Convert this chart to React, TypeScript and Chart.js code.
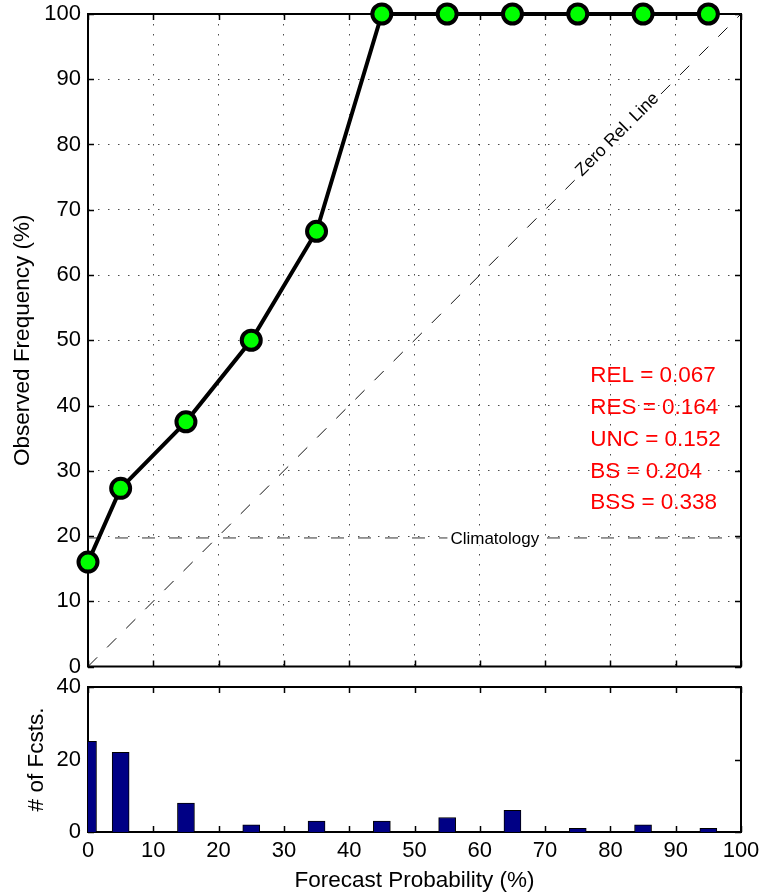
import React, { useEffect, useRef } from 'react';
import { Chart, registerables } from 'chart.js';
Chart.register(...registerables);

const forecastProb = [0, 5, 15, 25, 35, 45, 55, 65, 75, 85, 95];
const observedFreq = [16, 27.3, 37.5, 50, 66.7, 100, 100, 100, 100, 100, 100];
const fcstCounts = [25, 22, 8, 2, 3, 3, 4, 6, 1, 2, 1];
const climatology = 19.7;
const statLabels = ['REL = 0.067', 'RES = 0.164', 'UNC = 0.152', 'BS = 0.204', 'BSS = 0.338'];
const zeroRelLabel = 'Zero Rel. Line';
const climLabel = 'Climatology';
const xTitle = 'Forecast Probability (%)';
const yTitleTop = 'Observed Frequency (%)';
const yTitleBottom = '# of Fcsts.';

const FONT = "'Liberation Sans', Arial, Helvetica, sans-serif";

const boxPlugin = {
  id: 'matlabBox',
  beforeDatasetsDraw(chart: any) {
    const { ctx, chartArea: a, scales } = chart;
    ctx.save();
    ctx.strokeStyle = '#000';
    ctx.lineWidth = 1.5;
    const L = 6;
    ctx.beginPath();
    scales.x.ticks.forEach((t: any) => {
      const px = Math.round(scales.x.getPixelForValue(t.value)) + 0.5;
      ctx.moveTo(px, a.bottom);
      ctx.lineTo(px, a.bottom - L);
      ctx.moveTo(px, a.top);
      ctx.lineTo(px, a.top + L);
    });
    scales.y.ticks.forEach((t: any) => {
      const py = Math.round(scales.y.getPixelForValue(t.value)) + 0.5;
      ctx.moveTo(a.left, py);
      ctx.lineTo(a.left + L, py);
      ctx.moveTo(a.right, py);
      ctx.lineTo(a.right - L, py);
    });
    ctx.stroke();
    ctx.lineWidth = 2;
    ctx.strokeRect(a.left, a.top, a.right - a.left, a.bottom - a.top);
    ctx.restore();
  },
};

const textPlugin = {
  id: 'reliabilityText',
  afterDatasetsDraw(chart: any) {
    const { ctx, scales } = chart;
    const x = scales.x, y = scales.y;
    ctx.save();
    // Zero reliability line label
    ctx.font = `17.5px ${FONT}`;
    ctx.textAlign = 'center';
    ctx.textBaseline = 'middle';
    const zx = x.getPixelForValue(81.3);
    const zy = y.getPixelForValue(81.3);
    ctx.translate(zx, zy);
    ctx.rotate(-Math.PI / 4);
    const zw = ctx.measureText(zeroRelLabel).width;
    ctx.fillStyle = '#fff';
    ctx.fillRect(-zw / 2 - 3, -10, zw + 6, 16);
    ctx.fillStyle = '#000';
    ctx.fillText(zeroRelLabel, 0, -2);
    ctx.setTransform(1, 0, 0, 1, 0, 0);
    // Climatology label
    ctx.font = `17px ${FONT}`;
    const cx = x.getPixelForValue(62.3);
    const cy = y.getPixelForValue(climatology);
    const cw = ctx.measureText(climLabel).width;
    ctx.fillStyle = '#fff';
    ctx.fillRect(cx - cw / 2 - 3, cy - 7, cw + 6, 14);
    ctx.fillStyle = '#000';
    ctx.fillText(climLabel, cx, cy + 1);
    // Stats
    ctx.font = `22.5px ${FONT}`;
    ctx.textAlign = 'left';
    ctx.fillStyle = '#ff0000';
    statLabels.forEach((s, i) => {
      ctx.fillText(s, x.getPixelForValue(76.9), y.getPixelForValue(44.5 - i * 4.87));
    });
    ctx.restore();
  },
};

const zeroPad = (s: any) => {
  s.paddingLeft = 0;
  s.paddingRight = 0;
  s.paddingTop = 0;
  s.paddingBottom = 0;
};

function TopChart() {
  const ref = useRef<HTMLCanvasElement>(null);
  useEffect(() => {
    const chart = new Chart(ref.current!, {
      type: 'line',
      data: {
        datasets: [
          {
            data: forecastProb.map((p, i) => ({ x: p, y: observedFreq[i] })),
            borderColor: '#000',
            borderWidth: 4,
            pointRadius: 9.5,
            pointBorderWidth: 4,
            pointBackgroundColor: '#00ff00',
            pointBorderColor: '#000',
            clip: false,
            order: 0,
          } as any,
          {
            data: [{ x: 0, y: 0 }, { x: 100, y: 100 }],
            borderColor: '#111',
            borderWidth: 1,
            borderDash: [13, 14],
            pointRadius: 0,
            order: 1,
          },
          {
            data: [{ x: 0, y: climatology }, { x: 100, y: climatology }],
            borderColor: '#333',
            borderWidth: 1,
            borderDash: [13, 14],
            pointRadius: 0,
            order: 2,
          },
        ],
      },
      options: {
        responsive: false,
        animation: false,
        layout: { padding: { top: 14, right: 21, bottom: 13, left: 0 } },
        plugins: { legend: { display: false }, tooltip: { enabled: false } },
        scales: {
          x: {
            type: 'linear',
            min: 0,
            max: 100,
            ticks: { stepSize: 10, display: false },
            grid: { color: 'rgba(0,0,0,0.7)', lineWidth: 1, drawTicks: false },
            border: { display: false, dash: [1.5, 8.5] },
            afterFit: (s: any) => { s.height = 0; zeroPad(s); },
          },
          y: {
            type: 'linear',
            min: 0,
            max: 100,
            ticks: { stepSize: 10, color: '#000', font: { size: 22, family: FONT }, padding: 7 },
            grid: { color: 'rgba(0,0,0,0.7)', lineWidth: 1, drawTicks: false },
            border: { display: false, dash: [1.5, 8.5] },
            title: {
              display: true,
              text: yTitleTop,
              color: '#000',
              font: { size: 22.5, family: FONT },
              padding: { top: 9, bottom: 0 },
            },
            afterFit: (s: any) => { s.width = 88; zeroPad(s); },
          },
        },
      } as any,
      plugins: [boxPlugin, textPlugin],
    });
    return () => chart.destroy();
  }, []);
  return <canvas ref={ref} width={762} height={680} />;
}

function BottomChart() {
  const ref = useRef<HTMLCanvasElement>(null);
  useEffect(() => {
    const chart = new Chart(ref.current!, {
      type: 'bar',
      data: {
        datasets: [
          {
            data: forecastProb.map((p, i) => ({ x: p, y: fcstCounts[i] })),
            backgroundColor: '#000085',
            borderColor: '#000',
            borderWidth: 1,
            barThickness: 17,
          } as any,
        ],
      },
      options: {
        responsive: false,
        animation: false,
        layout: { padding: { top: 15, right: 21, bottom: 0, left: 0 } },
        plugins: { legend: { display: false }, tooltip: { enabled: false } },
        scales: {
          x: {
            type: 'linear',
            min: 0,
            max: 100,
            offset: false,
            ticks: { stepSize: 10, color: '#000', font: { size: 22, family: FONT }, padding: 6, maxRotation: 0, autoSkip: false },
            grid: { display: false, drawTicks: false },
            border: { display: false },
            title: {
              display: true,
              text: xTitle,
              color: '#000',
              font: { size: 22.5, family: FONT },
              padding: { top: 0, bottom: 2 },
            },
            afterFit: (s: any) => { s.height = 64; zeroPad(s); },
          },
          y: {
            type: 'linear',
            min: 0,
            max: 40,
            ticks: { stepSize: 20, color: '#000', font: { size: 22, family: FONT }, padding: 7 },
            grid: { display: false, drawTicks: false },
            border: { display: false },
            title: {
              display: true,
              text: yTitleBottom,
              color: '#000',
              font: { size: 22.5, family: FONT },
              padding: { top: 23, bottom: 0 },
            },
            afterFit: (s: any) => { s.width = 88; zeroPad(s); },
          },
        },
      } as any,
      plugins: [boxPlugin],
    });
    return () => chart.destroy();
  }, []);
  return <canvas ref={ref} width={762} height={224} />;
}

export default function App() {
  return (
    <div style={{ position: 'absolute', left: 0, top: 0, width: 762, height: 896, background: '#fff', overflow: 'hidden' }}>
      <div style={{ position: 'absolute', left: 0, top: 0, width: 762, height: 680 }}>
        <TopChart />
      </div>
      <div style={{ position: 'absolute', left: 0, top: 672, width: 762, height: 224 }}>
        <BottomChart />
      </div>
    </div>
  );
}
